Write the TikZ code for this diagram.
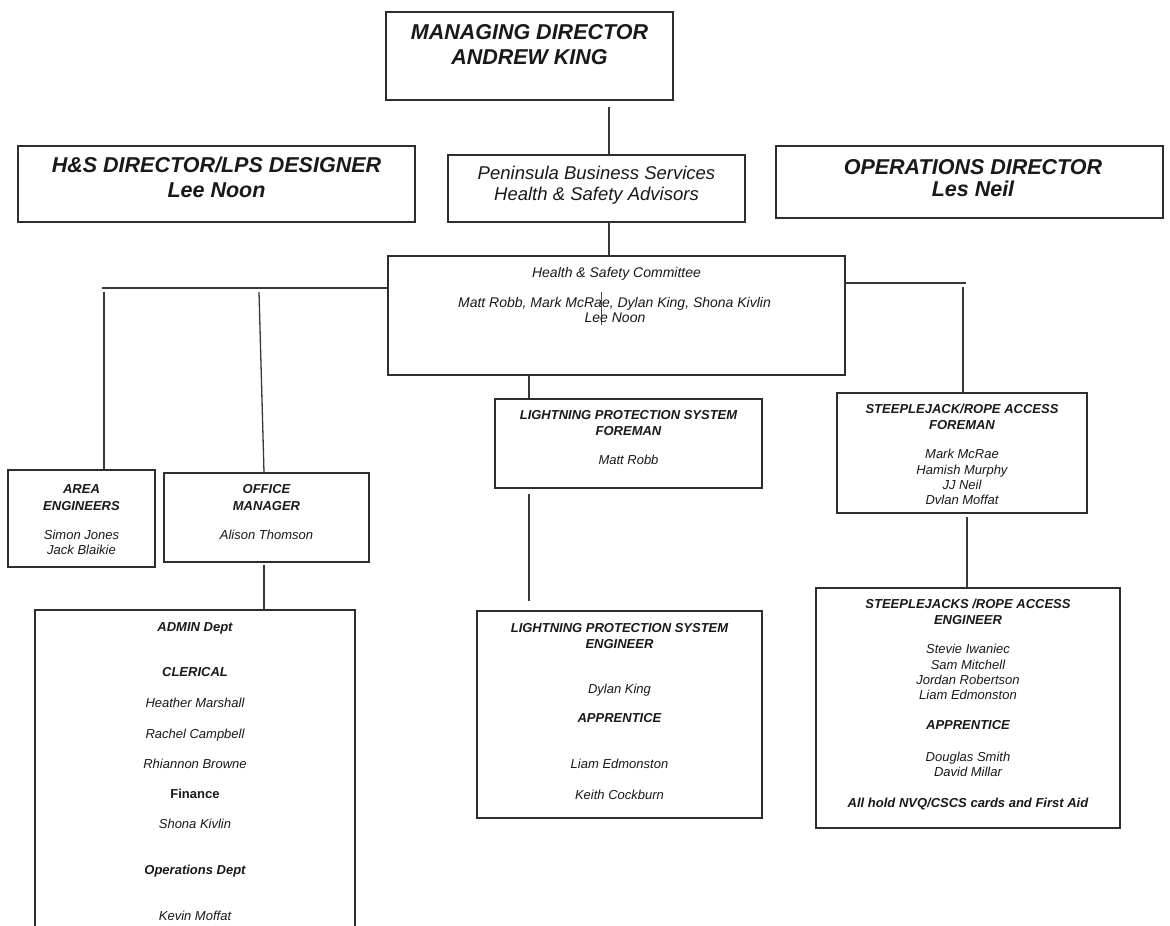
\documentclass[tikz,border=0pt]{standalone}
\usepackage{fontspec}
\setmainfont{Liberation Sans}
\tikzset{
  box/.style={draw=black!82, line width=1.3pt, rectangle, inner sep=0pt, fill=white},
  conn/.style={draw=black!78, line width=1.3pt},
  tx/.style={inner sep=0pt, text height=.72em, text depth=0pt, text=black!90, yshift=-2pt},
  big/.style={tx, font=\fontsize{21.5}{24}\selectfont\bfseries\itshape},
  mid/.style={tx, font=\fontsize{18.5}{21}\selectfont\itshape},
  cmt/.style={tx, font=\fontsize{14}{16}\selectfont\itshape},
  hd/.style={tx, font=\fontsize{13}{15}\selectfont\bfseries\itshape},
  hdu/.style={tx, font=\fontsize{13}{15}\selectfont\bfseries},
  nm/.style={tx, font=\fontsize{13}{15}\selectfont\itshape}
}
\newcommand\BX[5]{\node[box, minimum width={(#4-#2)*1pt}, minimum height={(#5-#3)*1pt}] (#1) at ({(#2+#4)/2},{(#3+#5)/2}) {};}
\newcommand\TX[5]{\node[#4] (#1) at (#2,#3) {#5};}
\begin{document}
\begin{tikzpicture}[x=1pt,y=-1pt]
\useasboundingbox (0,0) rectangle (1170,926);
\fill[white] (0,0) rectangle (1170,926);
\begin{scope}
\clip (0,0) rectangle (1170,926);
% boxes
\BX{md}{386}{12}{673}{100}
\BX{hs}{18}{146}{415}{222}
\BX{ops}{776}{146}{1163}{218}
\BX{pbs}{448}{155}{745}{222}
\BX{com}{388}{256}{845}{375}
\BX{area}{8}{470}{155}{567}
\BX{office}{164}{473}{369}{562}
\BX{admin}{35}{610}{355}{945}
\BX{lpsf}{495}{399}{762}{488}
\BX{lpse}{477}{611}{762}{818}
\BX{sjf}{837}{393}{1087}{513}
\BX{sje}{816}{588}{1120}{828}
% connectors
\coordinate (c1) at (609,107);
\draw[conn] (c1) -- (c1 |- pbs.north);
\coordinate (c2) at (609,0);
\draw[conn] (c2 |- pbs.south) -- (c2 |- com.north);
\coordinate (hl) at (102,288);
\draw[conn] (hl) -- (hl -| com.west);
\coordinate (va) at (104,292);
\draw[conn] (va) -- (va |- area.north);
\coordinate (vo) at (259,292);
\coordinate (vo2) at (264,0);
\draw[conn] (vo) -- (vo2 |- office.north);
\coordinate (hr) at (966,283);
\draw[conn] (hr -| com.east) -- (hr);
\coordinate (vr) at (963,287);
\draw[conn] (vr) -- (vr |- sjf.north);
\coordinate (vm) at (529,0);
\draw[conn] (vm |- com.south) -- (vm |- lpsf.north);
\coordinate (g1) at (529,494);
\coordinate (g2) at (529,601);
\draw[conn] (g1) -- (g2);
\coordinate (g3) at (967,517);
\coordinate (g4) at (967,587);
\draw[conn] (g3) -- (g4);
\coordinate (g5) at (264,565);
\draw[conn] (g5) -- (g5 |- admin.north);
\coordinate (m1) at (601,292);
\coordinate (m2) at (601,325);
\draw[draw=black!70, line width=0.6pt] (m1) -- (m2);
% texts
\TX{md1}{529.5}{33.5}{big}{MANAGING DIRECTOR}
\TX{md2}{529.5}{59}{big}{ANDREW KING}
\TX{hs1}{216.5}{166.5}{big}{H\&S DIRECTOR/LPS DESIGNER}
\TX{hs2}{216.5}{191.5}{big}{Lee Noon}
\TX{op1}{973}{168.5}{big}{OPERATIONS DIRECTOR}
\TX{op2}{973}{191}{big}{Les Neil}
\TX{pb1}{596.5}{174}{mid}{Peninsula Business Services}
\TX{pb2}{596.5}{195}{mid}{Health \& Safety Advisors}
\TX{cm1}{616.5}{272}{cmt}{Health \& Safety Committee}
\TX{cm2}{614.5}{302}{cmt}{Matt Robb, Mark McRae, Dylan King, Shona Kivlin}
\TX{cm3}{615}{317}{cmt}{Lee Noon}
\TX{ar1}{81.5}{488}{hd}{AREA}
\TX{ar2}{81.5}{505}{hd}{ENGINEERS}
\TX{ar3}{81.5}{534}{nm}{Simon Jones}
\TX{ar4}{81.5}{549}{nm}{Jack Blaikie}
\TX{of1}{266.5}{488}{hd}{OFFICE}
\TX{of2}{266.5}{505}{hd}{MANAGER}
\TX{of3}{266.5}{534}{nm}{Alison Thomson}
\TX{ad1}{195}{626}{hd}{ADMIN Dept}
\TX{ad2}{195}{671}{hd}{CLERICAL}
\TX{ad3}{195}{702}{nm}{Heather Marshall}
\TX{ad4}{195}{733}{nm}{Rachel Campbell}
\TX{ad5}{195}{763}{nm}{Rhiannon Browne}
\TX{ad6}{195}{793}{hdu}{Finance}
\TX{ad7}{195}{823}{nm}{Shona Kivlin}
\TX{ad8}{195}{869}{hd}{Operations Dept}
\TX{ad9}{195}{915}{nm}{Kevin Moffat}
\TX{lf1}{628.5}{414}{hd}{LIGHTNING PROTECTION SYSTEM}
\TX{lf2}{628.5}{430}{hd}{FOREMAN}
\TX{lf3}{628.5}{459}{nm}{Matt Robb}
\TX{le1}{619.5}{627}{hd}{LIGHTNING PROTECTION SYSTEM}
\TX{le2}{619.5}{643}{hd}{ENGINEER}
\TX{le3}{619.5}{688}{nm}{Dylan King}
\TX{le4}{619.5}{717}{hd}{APPRENTICE}
\TX{le5}{619.5}{763}{nm}{Liam Edmonston}
\TX{le6}{619.5}{794}{nm}{Keith Cockburn}
\TX{sf1}{962}{408}{hd}{STEEPLEJACK/ROPE ACCESS}
\TX{sf2}{962}{424}{hd}{FOREMAN}
\TX{sf3}{962}{453}{nm}{Mark McRae}
\TX{sf4}{962}{469}{nm}{Hamish Murphy}
\TX{sf5}{962}{484}{nm}{JJ Neil}
\TX{sf6}{962}{499}{nm}{Dvlan Moffat}
\TX{se1}{968}{603}{hd}{STEEPLEJACKS /ROPE ACCESS}
\TX{se2}{968}{619}{hd}{ENGINEER}
\TX{se3}{968}{648}{nm}{Stevie Iwaniec}
\TX{se4}{968}{664}{nm}{Sam Mitchell}
\TX{se5}{968}{679}{nm}{Jordan Robertson}
\TX{se6}{968}{694}{nm}{Liam Edmonston}
\TX{se7}{968}{724}{hd}{APPRENTICE}
\TX{se8}{968}{756}{nm}{Douglas Smith}
\TX{se9}{968}{771}{nm}{David Millar}
\TX{se10}{968}{802}{hd}{All hold NVQ/CSCS cards and First Aid}
\end{scope}
\end{tikzpicture}
\end{document}
